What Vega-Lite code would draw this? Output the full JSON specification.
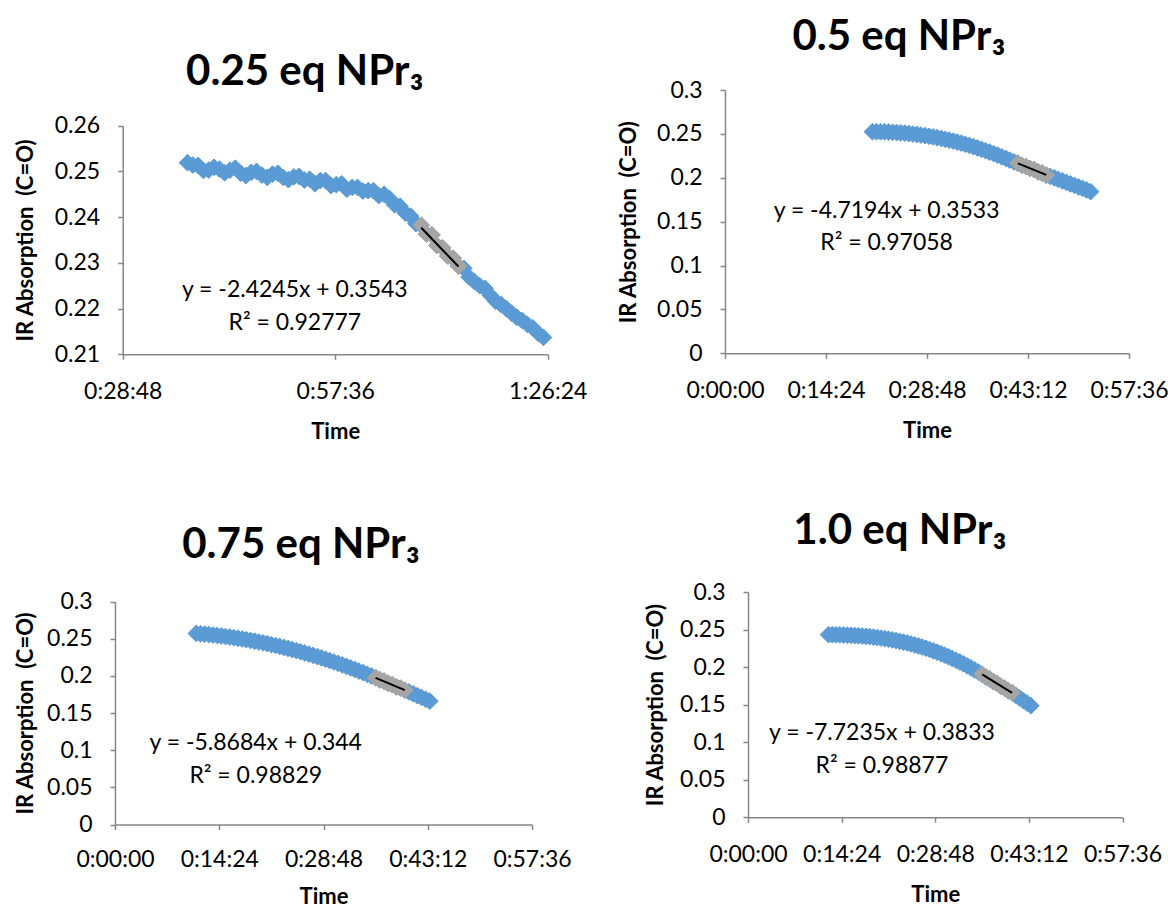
{
  "$schema": "https://vega.github.io/schema/vega-lite/v6.json",
  "background": "white",
  "padding": {"left": 14, "top": 16, "right": 0, "bottom": 0},
  "config": {
    "font": "Lato",
    "view": {"stroke": null},
    "axis": {
      "grid": false,
      "domainColor": "#878787",
      "domainWidth": 1.5,
      "tickColor": "#878787",
      "tickWidth": 1.5,
      "tickSize": 5,
      "labelFont": "Lato",
      "labelFontSize": 23,
      "labelColor": "#000000",
      "labelFlush": false,
      "labelOverlap": false,
      "labelBound": false,
      "titleFont": "Lato",
      "titleFontSize": 22,
      "titleFontWeight": "bold",
      "titleColor": "#000000"
    },
    "axisX": {"labelPadding": 21, "titlePadding": 18},
    "axisY": {"labelPadding": 18},
    "title": {
      "font": "Lato",
      "fontSize": 42,
      "fontWeight": "bold",
      "color": "#000000",
      "anchor": "middle",
      "frame": "bounds"
    }
  },
  "datasets": {
    "pts": [
      {"panel": "a", "t": 0.0261, "ir": 0.2519, "fit": 0},
      {"panel": "a", "t": 0.0266, "ir": 0.2514, "fit": 0},
      {"panel": "a", "t": 0.0271, "ir": 0.2513, "fit": 0},
      {"panel": "a", "t": 0.0276, "ir": 0.2502, "fit": 0},
      {"panel": "a", "t": 0.0281, "ir": 0.2503, "fit": 0},
      {"panel": "a", "t": 0.0286, "ir": 0.2509, "fit": 0},
      {"panel": "a", "t": 0.0291, "ir": 0.2505, "fit": 0},
      {"panel": "a", "t": 0.0296, "ir": 0.2497, "fit": 0},
      {"panel": "a", "t": 0.0301, "ir": 0.2503, "fit": 0},
      {"panel": "a", "t": 0.0306, "ir": 0.2507, "fit": 0},
      {"panel": "a", "t": 0.0311, "ir": 0.2496, "fit": 0},
      {"panel": "a", "t": 0.0316, "ir": 0.2491, "fit": 0},
      {"panel": "a", "t": 0.0321, "ir": 0.2498, "fit": 0},
      {"panel": "a", "t": 0.0326, "ir": 0.2500, "fit": 0},
      {"panel": "a", "t": 0.0331, "ir": 0.2492, "fit": 0},
      {"panel": "a", "t": 0.0336, "ir": 0.2487, "fit": 0},
      {"panel": "a", "t": 0.0341, "ir": 0.2494, "fit": 0},
      {"panel": "a", "t": 0.0346, "ir": 0.2496, "fit": 0},
      {"panel": "a", "t": 0.0351, "ir": 0.2487, "fit": 0},
      {"panel": "a", "t": 0.0356, "ir": 0.2482, "fit": 0},
      {"panel": "a", "t": 0.0361, "ir": 0.2488, "fit": 0},
      {"panel": "a", "t": 0.0366, "ir": 0.2489, "fit": 0},
      {"panel": "a", "t": 0.0371, "ir": 0.2481, "fit": 0},
      {"panel": "a", "t": 0.0376, "ir": 0.2483, "fit": 0},
      {"panel": "a", "t": 0.0381, "ir": 0.2473, "fit": 0},
      {"panel": "a", "t": 0.0386, "ir": 0.2480, "fit": 0},
      {"panel": "a", "t": 0.0391, "ir": 0.2480, "fit": 0},
      {"panel": "a", "t": 0.0396, "ir": 0.2469, "fit": 0},
      {"panel": "a", "t": 0.0401, "ir": 0.2471, "fit": 0},
      {"panel": "a", "t": 0.0406, "ir": 0.2473, "fit": 0},
      {"panel": "a", "t": 0.0411, "ir": 0.2461, "fit": 0},
      {"panel": "a", "t": 0.0416, "ir": 0.2465, "fit": 0},
      {"panel": "a", "t": 0.0421, "ir": 0.2465, "fit": 0},
      {"panel": "a", "t": 0.0426, "ir": 0.2457, "fit": 0},
      {"panel": "a", "t": 0.0431, "ir": 0.2458, "fit": 0},
      {"panel": "a", "t": 0.0436, "ir": 0.2458, "fit": 0},
      {"panel": "a", "t": 0.0441, "ir": 0.2447, "fit": 0},
      {"panel": "a", "t": 0.0446, "ir": 0.2450, "fit": 0},
      {"panel": "a", "t": 0.0451, "ir": 0.2441, "fit": 0},
      {"panel": "a", "t": 0.0456, "ir": 0.2427, "fit": 0},
      {"panel": "a", "t": 0.0461, "ir": 0.2424, "fit": 0},
      {"panel": "a", "t": 0.0466, "ir": 0.2409, "fit": 0},
      {"panel": "a", "t": 0.0471, "ir": 0.2402, "fit": 0},
      {"panel": "a", "t": 0.0476, "ir": 0.2386, "fit": 0},
      {"panel": "a", "t": 0.0481, "ir": 0.2382, "fit": 1},
      {"panel": "a", "t": 0.0486, "ir": 0.2363, "fit": 1},
      {"panel": "a", "t": 0.0491, "ir": 0.2361, "fit": 1},
      {"panel": "a", "t": 0.0496, "ir": 0.2338, "fit": 1},
      {"panel": "a", "t": 0.0501, "ir": 0.2333, "fit": 1},
      {"panel": "a", "t": 0.0506, "ir": 0.2315, "fit": 1},
      {"panel": "a", "t": 0.0511, "ir": 0.2310, "fit": 1},
      {"panel": "a", "t": 0.0516, "ir": 0.2293, "fit": 1},
      {"panel": "a", "t": 0.0521, "ir": 0.2288, "fit": 0},
      {"panel": "a", "t": 0.0526, "ir": 0.2269, "fit": 0},
      {"panel": "a", "t": 0.0531, "ir": 0.2259, "fit": 0},
      {"panel": "a", "t": 0.0536, "ir": 0.2250, "fit": 0},
      {"panel": "a", "t": 0.0541, "ir": 0.2244, "fit": 0},
      {"panel": "a", "t": 0.0546, "ir": 0.2229, "fit": 0},
      {"panel": "a", "t": 0.0551, "ir": 0.2216, "fit": 0},
      {"panel": "a", "t": 0.0556, "ir": 0.2209, "fit": 0},
      {"panel": "a", "t": 0.0561, "ir": 0.2200, "fit": 0},
      {"panel": "a", "t": 0.0566, "ir": 0.2190, "fit": 0},
      {"panel": "a", "t": 0.0571, "ir": 0.2181, "fit": 0},
      {"panel": "a", "t": 0.0576, "ir": 0.2174, "fit": 0},
      {"panel": "a", "t": 0.0581, "ir": 0.2165, "fit": 0},
      {"panel": "a", "t": 0.0586, "ir": 0.2158, "fit": 0},
      {"panel": "a", "t": 0.0591, "ir": 0.2146, "fit": 0},
      {"panel": "a", "t": 0.0596, "ir": 0.2137, "fit": 0},

      {"panel": "b", "t": 0.0146, "ir": 0.2525, "fit": 0},
      {"panel": "b", "t": 0.0150, "ir": 0.2525, "fit": 0},
      {"panel": "b", "t": 0.0154, "ir": 0.2524, "fit": 0},
      {"panel": "b", "t": 0.0158, "ir": 0.2523, "fit": 0},
      {"panel": "b", "t": 0.0162, "ir": 0.2521, "fit": 0},
      {"panel": "b", "t": 0.0166, "ir": 0.2518, "fit": 0},
      {"panel": "b", "t": 0.0170, "ir": 0.2515, "fit": 0},
      {"panel": "b", "t": 0.0174, "ir": 0.2512, "fit": 0},
      {"panel": "b", "t": 0.0178, "ir": 0.2508, "fit": 0},
      {"panel": "b", "t": 0.0182, "ir": 0.2503, "fit": 0},
      {"panel": "b", "t": 0.0186, "ir": 0.2498, "fit": 0},
      {"panel": "b", "t": 0.0190, "ir": 0.2493, "fit": 0},
      {"panel": "b", "t": 0.0194, "ir": 0.2487, "fit": 0},
      {"panel": "b", "t": 0.0198, "ir": 0.2480, "fit": 0},
      {"panel": "b", "t": 0.0202, "ir": 0.2473, "fit": 0},
      {"panel": "b", "t": 0.0206, "ir": 0.2465, "fit": 0},
      {"panel": "b", "t": 0.0210, "ir": 0.2457, "fit": 0},
      {"panel": "b", "t": 0.0214, "ir": 0.2448, "fit": 0},
      {"panel": "b", "t": 0.0218, "ir": 0.2438, "fit": 0},
      {"panel": "b", "t": 0.0222, "ir": 0.2428, "fit": 0},
      {"panel": "b", "t": 0.0226, "ir": 0.2417, "fit": 0},
      {"panel": "b", "t": 0.0230, "ir": 0.2406, "fit": 0},
      {"panel": "b", "t": 0.0234, "ir": 0.2394, "fit": 0},
      {"panel": "b", "t": 0.0238, "ir": 0.2381, "fit": 0},
      {"panel": "b", "t": 0.0242, "ir": 0.2368, "fit": 0},
      {"panel": "b", "t": 0.0246, "ir": 0.2354, "fit": 0},
      {"panel": "b", "t": 0.0250, "ir": 0.2339, "fit": 0},
      {"panel": "b", "t": 0.0254, "ir": 0.2324, "fit": 0},
      {"panel": "b", "t": 0.0258, "ir": 0.2308, "fit": 0},
      {"panel": "b", "t": 0.0262, "ir": 0.2292, "fit": 0},
      {"panel": "b", "t": 0.0266, "ir": 0.2275, "fit": 0},
      {"panel": "b", "t": 0.0270, "ir": 0.2257, "fit": 0},
      {"panel": "b", "t": 0.0274, "ir": 0.2239, "fit": 0},
      {"panel": "b", "t": 0.0278, "ir": 0.2220, "fit": 0},
      {"panel": "b", "t": 0.0282, "ir": 0.2201, "fit": 0},
      {"panel": "b", "t": 0.0286, "ir": 0.2182, "fit": 0},
      {"panel": "b", "t": 0.0290, "ir": 0.2166, "fit": 1},
      {"panel": "b", "t": 0.0294, "ir": 0.2142, "fit": 1},
      {"panel": "b", "t": 0.0298, "ir": 0.2129, "fit": 1},
      {"panel": "b", "t": 0.0302, "ir": 0.2105, "fit": 1},
      {"panel": "b", "t": 0.0306, "ir": 0.2093, "fit": 1},
      {"panel": "b", "t": 0.0310, "ir": 0.2067, "fit": 1},
      {"panel": "b", "t": 0.0314, "ir": 0.2053, "fit": 1},
      {"panel": "b", "t": 0.0318, "ir": 0.2030, "fit": 1},
      {"panel": "b", "t": 0.0322, "ir": 0.2015, "fit": 0},
      {"panel": "b", "t": 0.0326, "ir": 0.1998, "fit": 0},
      {"panel": "b", "t": 0.0330, "ir": 0.1981, "fit": 0},
      {"panel": "b", "t": 0.0334, "ir": 0.1964, "fit": 0},
      {"panel": "b", "t": 0.0338, "ir": 0.1947, "fit": 0},
      {"panel": "b", "t": 0.0342, "ir": 0.1930, "fit": 0},
      {"panel": "b", "t": 0.0346, "ir": 0.1913, "fit": 0},
      {"panel": "b", "t": 0.0350, "ir": 0.1896, "fit": 0},
      {"panel": "b", "t": 0.0354, "ir": 0.1879, "fit": 0},
      {"panel": "b", "t": 0.0358, "ir": 0.1861, "fit": 0},
      {"panel": "b", "t": 0.0362, "ir": 0.1842, "fit": 0},

      {"panel": "c", "t": 0.0078, "ir": 0.2570, "fit": 0},
      {"panel": "c", "t": 0.0082, "ir": 0.2565, "fit": 0},
      {"panel": "c", "t": 0.0086, "ir": 0.2560, "fit": 0},
      {"panel": "c", "t": 0.0090, "ir": 0.2555, "fit": 0},
      {"panel": "c", "t": 0.0094, "ir": 0.2549, "fit": 0},
      {"panel": "c", "t": 0.0098, "ir": 0.2543, "fit": 0},
      {"panel": "c", "t": 0.0102, "ir": 0.2536, "fit": 0},
      {"panel": "c", "t": 0.0106, "ir": 0.2529, "fit": 0},
      {"panel": "c", "t": 0.0110, "ir": 0.2521, "fit": 0},
      {"panel": "c", "t": 0.0114, "ir": 0.2513, "fit": 0},
      {"panel": "c", "t": 0.0118, "ir": 0.2505, "fit": 0},
      {"panel": "c", "t": 0.0122, "ir": 0.2496, "fit": 0},
      {"panel": "c", "t": 0.0126, "ir": 0.2486, "fit": 0},
      {"panel": "c", "t": 0.0130, "ir": 0.2476, "fit": 0},
      {"panel": "c", "t": 0.0134, "ir": 0.2466, "fit": 0},
      {"panel": "c", "t": 0.0138, "ir": 0.2455, "fit": 0},
      {"panel": "c", "t": 0.0142, "ir": 0.2444, "fit": 0},
      {"panel": "c", "t": 0.0146, "ir": 0.2433, "fit": 0},
      {"panel": "c", "t": 0.0150, "ir": 0.2420, "fit": 0},
      {"panel": "c", "t": 0.0154, "ir": 0.2408, "fit": 0},
      {"panel": "c", "t": 0.0158, "ir": 0.2395, "fit": 0},
      {"panel": "c", "t": 0.0162, "ir": 0.2382, "fit": 0},
      {"panel": "c", "t": 0.0166, "ir": 0.2368, "fit": 0},
      {"panel": "c", "t": 0.0170, "ir": 0.2353, "fit": 0},
      {"panel": "c", "t": 0.0174, "ir": 0.2339, "fit": 0},
      {"panel": "c", "t": 0.0178, "ir": 0.2324, "fit": 0},
      {"panel": "c", "t": 0.0182, "ir": 0.2308, "fit": 0},
      {"panel": "c", "t": 0.0186, "ir": 0.2292, "fit": 0},
      {"panel": "c", "t": 0.0190, "ir": 0.2275, "fit": 0},
      {"panel": "c", "t": 0.0194, "ir": 0.2258, "fit": 0},
      {"panel": "c", "t": 0.0198, "ir": 0.2241, "fit": 0},
      {"panel": "c", "t": 0.0202, "ir": 0.2223, "fit": 0},
      {"panel": "c", "t": 0.0206, "ir": 0.2205, "fit": 0},
      {"panel": "c", "t": 0.0210, "ir": 0.2186, "fit": 0},
      {"panel": "c", "t": 0.0214, "ir": 0.2167, "fit": 0},
      {"panel": "c", "t": 0.0218, "ir": 0.2147, "fit": 0},
      {"panel": "c", "t": 0.0222, "ir": 0.2127, "fit": 0},
      {"panel": "c", "t": 0.0226, "ir": 0.2107, "fit": 0},
      {"panel": "c", "t": 0.0230, "ir": 0.2086, "fit": 0},
      {"panel": "c", "t": 0.0234, "ir": 0.2064, "fit": 0},
      {"panel": "c", "t": 0.0238, "ir": 0.2043, "fit": 0},
      {"panel": "c", "t": 0.0242, "ir": 0.2020, "fit": 0},
      {"panel": "c", "t": 0.0246, "ir": 0.1998, "fit": 0},
      {"panel": "c", "t": 0.0250, "ir": 0.1975, "fit": 1},
      {"panel": "c", "t": 0.0254, "ir": 0.1946, "fit": 1},
      {"panel": "c", "t": 0.0258, "ir": 0.1929, "fit": 1},
      {"panel": "c", "t": 0.0262, "ir": 0.1900, "fit": 1},
      {"panel": "c", "t": 0.0266, "ir": 0.1882, "fit": 1},
      {"panel": "c", "t": 0.0270, "ir": 0.1852, "fit": 1},
      {"panel": "c", "t": 0.0274, "ir": 0.1834, "fit": 1},
      {"panel": "c", "t": 0.0278, "ir": 0.1806, "fit": 1},
      {"panel": "c", "t": 0.0282, "ir": 0.1784, "fit": 0},
      {"panel": "c", "t": 0.0286, "ir": 0.1759, "fit": 0},
      {"panel": "c", "t": 0.0290, "ir": 0.1734, "fit": 0},
      {"panel": "c", "t": 0.0294, "ir": 0.1709, "fit": 0},
      {"panel": "c", "t": 0.0298, "ir": 0.1684, "fit": 0},
      {"panel": "c", "t": 0.0302, "ir": 0.1659, "fit": 0},

      {"panel": "d", "t": 0.0086, "ir": 0.2432, "fit": 0},
      {"panel": "d", "t": 0.0090, "ir": 0.2431, "fit": 0},
      {"panel": "d", "t": 0.0094, "ir": 0.2430, "fit": 0},
      {"panel": "d", "t": 0.0098, "ir": 0.2429, "fit": 0},
      {"panel": "d", "t": 0.0102, "ir": 0.2427, "fit": 0},
      {"panel": "d", "t": 0.0106, "ir": 0.2425, "fit": 0},
      {"panel": "d", "t": 0.0110, "ir": 0.2423, "fit": 0},
      {"panel": "d", "t": 0.0114, "ir": 0.2420, "fit": 0},
      {"panel": "d", "t": 0.0118, "ir": 0.2417, "fit": 0},
      {"panel": "d", "t": 0.0122, "ir": 0.2413, "fit": 0},
      {"panel": "d", "t": 0.0126, "ir": 0.2409, "fit": 0},
      {"panel": "d", "t": 0.0130, "ir": 0.2404, "fit": 0},
      {"panel": "d", "t": 0.0134, "ir": 0.2399, "fit": 0},
      {"panel": "d", "t": 0.0138, "ir": 0.2393, "fit": 0},
      {"panel": "d", "t": 0.0142, "ir": 0.2386, "fit": 0},
      {"panel": "d", "t": 0.0146, "ir": 0.2379, "fit": 0},
      {"panel": "d", "t": 0.0150, "ir": 0.2371, "fit": 0},
      {"panel": "d", "t": 0.0154, "ir": 0.2362, "fit": 0},
      {"panel": "d", "t": 0.0158, "ir": 0.2353, "fit": 0},
      {"panel": "d", "t": 0.0162, "ir": 0.2343, "fit": 0},
      {"panel": "d", "t": 0.0166, "ir": 0.2332, "fit": 0},
      {"panel": "d", "t": 0.0170, "ir": 0.2321, "fit": 0},
      {"panel": "d", "t": 0.0174, "ir": 0.2308, "fit": 0},
      {"panel": "d", "t": 0.0178, "ir": 0.2295, "fit": 0},
      {"panel": "d", "t": 0.0182, "ir": 0.2281, "fit": 0},
      {"panel": "d", "t": 0.0186, "ir": 0.2266, "fit": 0},
      {"panel": "d", "t": 0.0190, "ir": 0.2251, "fit": 0},
      {"panel": "d", "t": 0.0194, "ir": 0.2234, "fit": 0},
      {"panel": "d", "t": 0.0198, "ir": 0.2216, "fit": 0},
      {"panel": "d", "t": 0.0202, "ir": 0.2198, "fit": 0},
      {"panel": "d", "t": 0.0206, "ir": 0.2179, "fit": 0},
      {"panel": "d", "t": 0.0210, "ir": 0.2159, "fit": 0},
      {"panel": "d", "t": 0.0214, "ir": 0.2138, "fit": 0},
      {"panel": "d", "t": 0.0218, "ir": 0.2115, "fit": 0},
      {"panel": "d", "t": 0.0222, "ir": 0.2092, "fit": 0},
      {"panel": "d", "t": 0.0226, "ir": 0.2068, "fit": 0},
      {"panel": "d", "t": 0.0230, "ir": 0.2043, "fit": 0},
      {"panel": "d", "t": 0.0234, "ir": 0.2017, "fit": 0},
      {"panel": "d", "t": 0.0238, "ir": 0.1990, "fit": 0},
      {"panel": "d", "t": 0.0242, "ir": 0.1962, "fit": 0},
      {"panel": "d", "t": 0.0246, "ir": 0.1933, "fit": 0},
      {"panel": "d", "t": 0.0250, "ir": 0.1904, "fit": 1},
      {"panel": "d", "t": 0.0254, "ir": 0.1868, "fit": 1},
      {"panel": "d", "t": 0.0258, "ir": 0.1843, "fit": 1},
      {"panel": "d", "t": 0.0262, "ir": 0.1807, "fit": 1},
      {"panel": "d", "t": 0.0266, "ir": 0.1781, "fit": 1},
      {"panel": "d", "t": 0.0270, "ir": 0.1745, "fit": 1},
      {"panel": "d", "t": 0.0274, "ir": 0.1719, "fit": 1},
      {"panel": "d", "t": 0.0278, "ir": 0.1683, "fit": 1},
      {"panel": "d", "t": 0.0282, "ir": 0.1657, "fit": 1},
      {"panel": "d", "t": 0.0286, "ir": 0.1622, "fit": 0},
      {"panel": "d", "t": 0.0290, "ir": 0.1588, "fit": 0},
      {"panel": "d", "t": 0.0294, "ir": 0.1554, "fit": 0},
      {"panel": "d", "t": 0.0298, "ir": 0.1520, "fit": 0},
      {"panel": "d", "t": 0.0302, "ir": 0.1486, "fit": 0}
    ],
    "trend": [
      {"panel": "a", "t": 0.0481, "ir": 0.2376816},
      {"panel": "a", "t": 0.0516, "ir": 0.2291958},
      {"panel": "b", "t": 0.0290, "ir": 0.2164374},
      {"panel": "b", "t": 0.0318, "ir": 0.2032231},
      {"panel": "c", "t": 0.0250, "ir": 0.19729},
      {"panel": "c", "t": 0.0278, "ir": 0.1808585},
      {"panel": "d", "t": 0.0250, "ir": 0.1902125},
      {"panel": "d", "t": 0.0282, "ir": 0.1654973}
    ],
    "eqn": [
      {"panel": "a", "t": 0.0362, "ir": 0.2241, "txt": "y = -2.4245x + 0.3543"},
      {"panel": "a", "t": 0.0362, "ir": 0.2169, "txt": "R² = 0.92777"},
      {"panel": "b", "t": 0.0160, "ir": 0.1625, "txt": "y = -4.7194x + 0.3533"},
      {"panel": "b", "t": 0.0160, "ir": 0.1253, "txt": "R² = 0.97058"},
      {"panel": "c", "t": 0.0135, "ir": 0.1100, "txt": "y = -5.8684x + 0.344"},
      {"panel": "c", "t": 0.0135, "ir": 0.0650, "txt": "R² = 0.98829"},
      {"panel": "d", "t": 0.0143, "ir": 0.1124, "txt": "y = -7.7235x + 0.3833"},
      {"panel": "d", "t": 0.0143, "ir": 0.0679, "txt": "R² = 0.98877"}
    ]
  },
  "spacing": 67,
  "vconcat": [
    {
      "spacing": 30,
      "hconcat": [
        {
          "width": 432.7,
          "height": 264.3,
          "title": {"text": "0.25 eq NPr₃", "offset": -4, "dx": 4},
          "encoding": {
            "x": {"field": "t", "type": "quantitative",
                  "scale": {"domain": [0.02, 0.06], "nice": false, "zero": false, "range": [7.7, 432.7]},
                  "axis": {"title": "Time", "values": [0.02, 0.04, 0.06],
                           "labelExpr": "utcFormat(datum.value * 86400000, '%-H:%M:%S')"}},
            "y": {"field": "ir", "type": "quantitative",
                  "scale": {"domain": [0.21, 0.26], "nice": false, "zero": false, "range": [264.3, 35.7]},
                  "axis": {"title": "IR Absorption \u00a0(C=O)", "values": [0.21, 0.22, 0.23, 0.24, 0.25, 0.26],
                           "format": "~g", "titlePadding": 16.5, "offset": -7.7}}
          },
          "layer": [
            {"data": {"name": "pts"}, "transform": [{"filter": "datum.panel === 'a'"}],
             "mark": {"type": "point", "shape": "diamond", "filled": true, "size": 280, "opacity": 1,
                      "color": "#5B9BD5", "stroke": "#5B9BD5", "strokeWidth": 1}},
            {"data": {"name": "pts"}, "transform": [{"filter": "datum.panel === 'a' && datum.fit === 1"}],
             "mark": {"type": "point", "shape": "diamond", "filled": true, "size": 280, "opacity": 1,
                      "color": "#A5A5A5", "stroke": "#A5A5A5", "strokeWidth": 1}},
            {"data": {"name": "trend"}, "transform": [{"filter": "datum.panel === 'a'"}],
             "mark": {"type": "line", "color": "#000000", "strokeWidth": 2},
             "encoding": {}},
            {"data": {"name": "eqn"}, "transform": [{"filter": "datum.panel === 'a'"}],
             "mark": {"type": "text", "fontSize": 23, "color": "#000000", "align": "center", "baseline": "middle"},
             "encoding": {"text": {"field": "txt"}}}
          ]
        },
        {
          "width": 404,
          "height": 263.3,
          "title": {"text": "0.5 eq NPr₃", "offset": 20, "dx": 6},
          "encoding": {
            "x": {"field": "t", "type": "quantitative",
                  "scale": {"domain": [0, 0.04], "nice": false, "zero": false},
                  "axis": {"title": "Time", "values": [0, 0.01, 0.02, 0.03, 0.04],
                           "labelExpr": "utcFormat(datum.value * 86400000, '%-H:%M:%S')"}},
            "y": {"field": "ir", "type": "quantitative",
                  "scale": {"domain": [0, 0.3], "nice": false, "zero": false},
                  "axis": {"title": "IR Absorption \u00a0(C=O)", "values": [0, 0.05, 0.1, 0.15, 0.2, 0.25, 0.3],
                           "format": "~g", "titlePadding": 15.8}}
          },
          "layer": [
            {"data": {"name": "pts"}, "transform": [{"filter": "datum.panel === 'b'"}],
             "mark": {"type": "point", "shape": "diamond", "filled": true, "size": 280, "opacity": 1,
                      "color": "#5B9BD5", "stroke": "#5B9BD5", "strokeWidth": 1}},
            {"data": {"name": "pts"}, "transform": [{"filter": "datum.panel === 'b' && datum.fit === 1"}],
             "mark": {"type": "point", "shape": "diamond", "filled": true, "size": 280, "opacity": 1,
                      "color": "#A5A5A5", "stroke": "#A5A5A5", "strokeWidth": 1}},
            {"data": {"name": "trend"}, "transform": [{"filter": "datum.panel === 'b'"}],
             "mark": {"type": "line", "color": "#000000", "strokeWidth": 2},
             "encoding": {}},
            {"data": {"name": "eqn"}, "transform": [{"filter": "datum.panel === 'b'"}],
             "mark": {"type": "text", "fontSize": 23, "color": "#000000", "align": "center", "baseline": "middle"},
             "encoding": {"text": {"field": "txt"}}}
          ]
        }
      ]
    },
    {
      "spacing": 72,
      "hconcat": [
        {
          "width": 417,
          "height": 232.5,
          "title": {"text": "0.75 eq NPr₃", "offset": 24, "dx": 8},
          "encoding": {
            "x": {"field": "t", "type": "quantitative",
                  "scale": {"domain": [0, 0.04], "nice": false, "zero": false},
                  "axis": {"title": "Time", "values": [0, 0.01, 0.02, 0.03, 0.04],
                           "labelPadding": 19, "titlePadding": 15,
                           "labelExpr": "utcFormat(datum.value * 86400000, '%-H:%M:%S')"}},
            "y": {"field": "ir", "type": "quantitative",
                  "scale": {"domain": [0, 0.3], "nice": false, "zero": false, "range": [232.5, 9.5]},
                  "axis": {"title": "IR Absorption \u00a0(C=O)", "values": [0, 0.05, 0.1, 0.15, 0.2, 0.25, 0.3],
                           "format": "~g", "titlePadding": 8.8}}
          },
          "layer": [
            {"data": {"name": "pts"}, "transform": [{"filter": "datum.panel === 'c'"}],
             "mark": {"type": "point", "shape": "diamond", "filled": true, "size": 280, "opacity": 1,
                      "color": "#5B9BD5", "stroke": "#5B9BD5", "strokeWidth": 1}},
            {"data": {"name": "pts"}, "transform": [{"filter": "datum.panel === 'c' && datum.fit === 1"}],
             "mark": {"type": "point", "shape": "diamond", "filled": true, "size": 280, "opacity": 1,
                      "color": "#A5A5A5", "stroke": "#A5A5A5", "strokeWidth": 1}},
            {"data": {"name": "trend"}, "transform": [{"filter": "datum.panel === 'c'"}],
             "mark": {"type": "line", "color": "#000000", "strokeWidth": 2},
             "encoding": {}},
            {"data": {"name": "eqn"}, "transform": [{"filter": "datum.panel === 'c'"}],
             "mark": {"type": "text", "fontSize": 23, "color": "#000000", "align": "center", "baseline": "middle"},
             "encoding": {"text": {"field": "txt"}}}
          ]
        },
        {
          "width": 374.6,
          "height": 225.2,
          "title": {"text": "1.0 eq NPr₃", "offset": 28, "dx": -3},
          "encoding": {
            "x": {"field": "t", "type": "quantitative",
                  "scale": {"domain": [0, 0.04], "nice": false, "zero": false},
                  "axis": {"title": "Time", "values": [0, 0.01, 0.02, 0.03, 0.04],
                           "labelExpr": "utcFormat(datum.value * 86400000, '%-H:%M:%S')"}},
            "y": {"field": "ir", "type": "quantitative",
                  "scale": {"domain": [0, 0.3], "nice": false, "zero": false},
                  "axis": {"title": "IR Absorption \u00a0(C=O)", "values": [0, 0.05, 0.1, 0.15, 0.2, 0.25, 0.3],
                           "format": "~g", "titlePadding": 12.5}}
          },
          "layer": [
            {"data": {"name": "pts"}, "transform": [{"filter": "datum.panel === 'd'"}],
             "mark": {"type": "point", "shape": "diamond", "filled": true, "size": 280, "opacity": 1,
                      "color": "#5B9BD5", "stroke": "#5B9BD5", "strokeWidth": 1}},
            {"data": {"name": "pts"}, "transform": [{"filter": "datum.panel === 'd' && datum.fit === 1"}],
             "mark": {"type": "point", "shape": "diamond", "filled": true, "size": 280, "opacity": 1,
                      "color": "#A5A5A5", "stroke": "#A5A5A5", "strokeWidth": 1}},
            {"data": {"name": "trend"}, "transform": [{"filter": "datum.panel === 'd'"}],
             "mark": {"type": "line", "color": "#000000", "strokeWidth": 2},
             "encoding": {}},
            {"data": {"name": "eqn"}, "transform": [{"filter": "datum.panel === 'd'"}],
             "mark": {"type": "text", "fontSize": 23, "color": "#000000", "align": "center", "baseline": "middle"},
             "encoding": {"text": {"field": "txt"}}}
          ]
        }
      ]
    }
  ]
}
